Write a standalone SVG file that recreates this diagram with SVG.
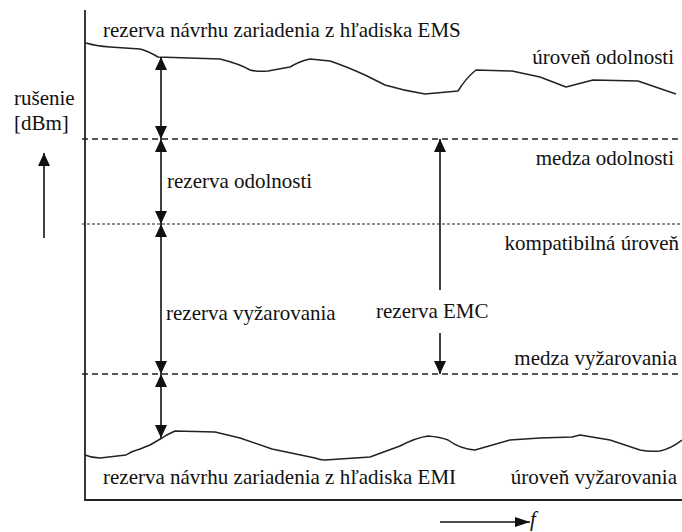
<svg xmlns="http://www.w3.org/2000/svg" width="682" height="532" viewBox="0 0 682 532">
<defs>
<style>
text{font-family:"Liberation Serif","Times New Roman",serif;font-size:21px;fill:#111}
.axis{stroke:#222;stroke-width:1.8;fill:none}
.curve{stroke:#222;stroke-width:1.5;fill:none;stroke-linejoin:round}
.dash{stroke:#222;stroke-width:1.3;stroke-dasharray:6 4;fill:none}
.fine{stroke:#222;stroke-width:1.2;stroke-dasharray:3 2;fill:none}
.arr{stroke:#111;stroke-width:1.6;fill:none}
</style>
<marker id="ah" viewBox="0 0 13 12" refX="13" refY="6" markerWidth="13" markerHeight="12" markerUnits="userSpaceOnUse" orient="auto-start-reverse">
<path d="M0,0 L13,6 L0,12 z" fill="#111"/>
</marker>
<marker id="ahs" viewBox="0 0 15 10" refX="15" refY="5" markerWidth="15" markerHeight="10" markerUnits="userSpaceOnUse" orient="auto">
<path d="M0,0 L15,5 L0,10 z" fill="#111"/>
</marker>
</defs>
<rect width="682" height="532" fill="#fff"/>
<g id="axes">
<path class="axis" d="M85,10 V500 H682"/>
</g>
<g id="levels">
<path class="dash" d="M82,139 H682"/>
<path class="fine" d="M82,224 H682"/>
<path class="dash" d="M82,374 H682"/>
</g>
<g id="curve-odolnost">
<path class="curve" d="M86,43 Q96,46 110,47 L140,49 Q148,51 158,57 L220,59 Q240,64 250,70 Q258,72 268,71 L290,67 Q300,61 310,59 L330,61 Q345,66 365,75 L385,85 Q405,91 425,94 L458,91 Q466,78 476,70 L512,71 L540,77 L566,87 L593,80 L638,81 L673,93 L676,94"/>
</g>
<g id="curve-vyzarovanie">
<path class="curve" d="M85,455 Q92,458 100,458 L126,455 Q132,451 140,449 L150,445 L162,438 Q168,434 175,431 L215,432 L240,438 L272,449 L315,458 Q320,460 325,460 L370,457 L400,446 Q415,438 428,436 Q440,437 448,440 Q460,449 475,450 L510,440 L540,438 L572,437 L580,435 L610,440 L640,450 Q650,452 660,451 Q672,448 682,440"/>
</g>
<g id="connectors">
<path class="arr" d="M161,57 V139" marker-start="url(#ah)" marker-end="url(#ah)"/>
<path class="arr" d="M161,139 V224" marker-start="url(#ah)" marker-end="url(#ah)"/>
<path class="arr" d="M161,224 V374" marker-start="url(#ah)" marker-end="url(#ah)"/>
<path class="arr" d="M161,374 V438" marker-start="url(#ah)" marker-end="url(#ah)"/>
<path class="arr" d="M440,290 V139" marker-end="url(#ah)"/>
<path class="arr" d="M440,333 V374" marker-end="url(#ah)"/>
<path class="arr" d="M44,238 V153" marker-end="url(#ah)"/>
<path class="arr" d="M440,522 H530" marker-end="url(#ahs)"/>
</g>
<g id="labels">
<text x="103" y="37">rezerva návrhu zariadenia z hľadiska EMS</text>
<text x="674" y="64" text-anchor="end">úroveň odolnosti</text>
<text x="14" y="105">rušenie</text>
<text x="14" y="130">[dBm]</text>
<text x="674" y="165" text-anchor="end">medza odolnosti</text>
<text x="167" y="188">rezerva odolnosti</text>
<text x="679" y="250" text-anchor="end">kompatibilná úroveň</text>
<text x="166" y="320">rezerva vyžarovania</text>
<text x="376" y="318">rezerva EMC</text>
<text x="677" y="365" text-anchor="end">medza vyžarovania</text>
<text x="103" y="484">rezerva návrhu zariadenia z hľadiska EMI</text>
<text x="677" y="484" text-anchor="end">úroveň vyžarovania</text>
<text x="530" y="526" font-style="italic">f</text>
</g>
</svg>
